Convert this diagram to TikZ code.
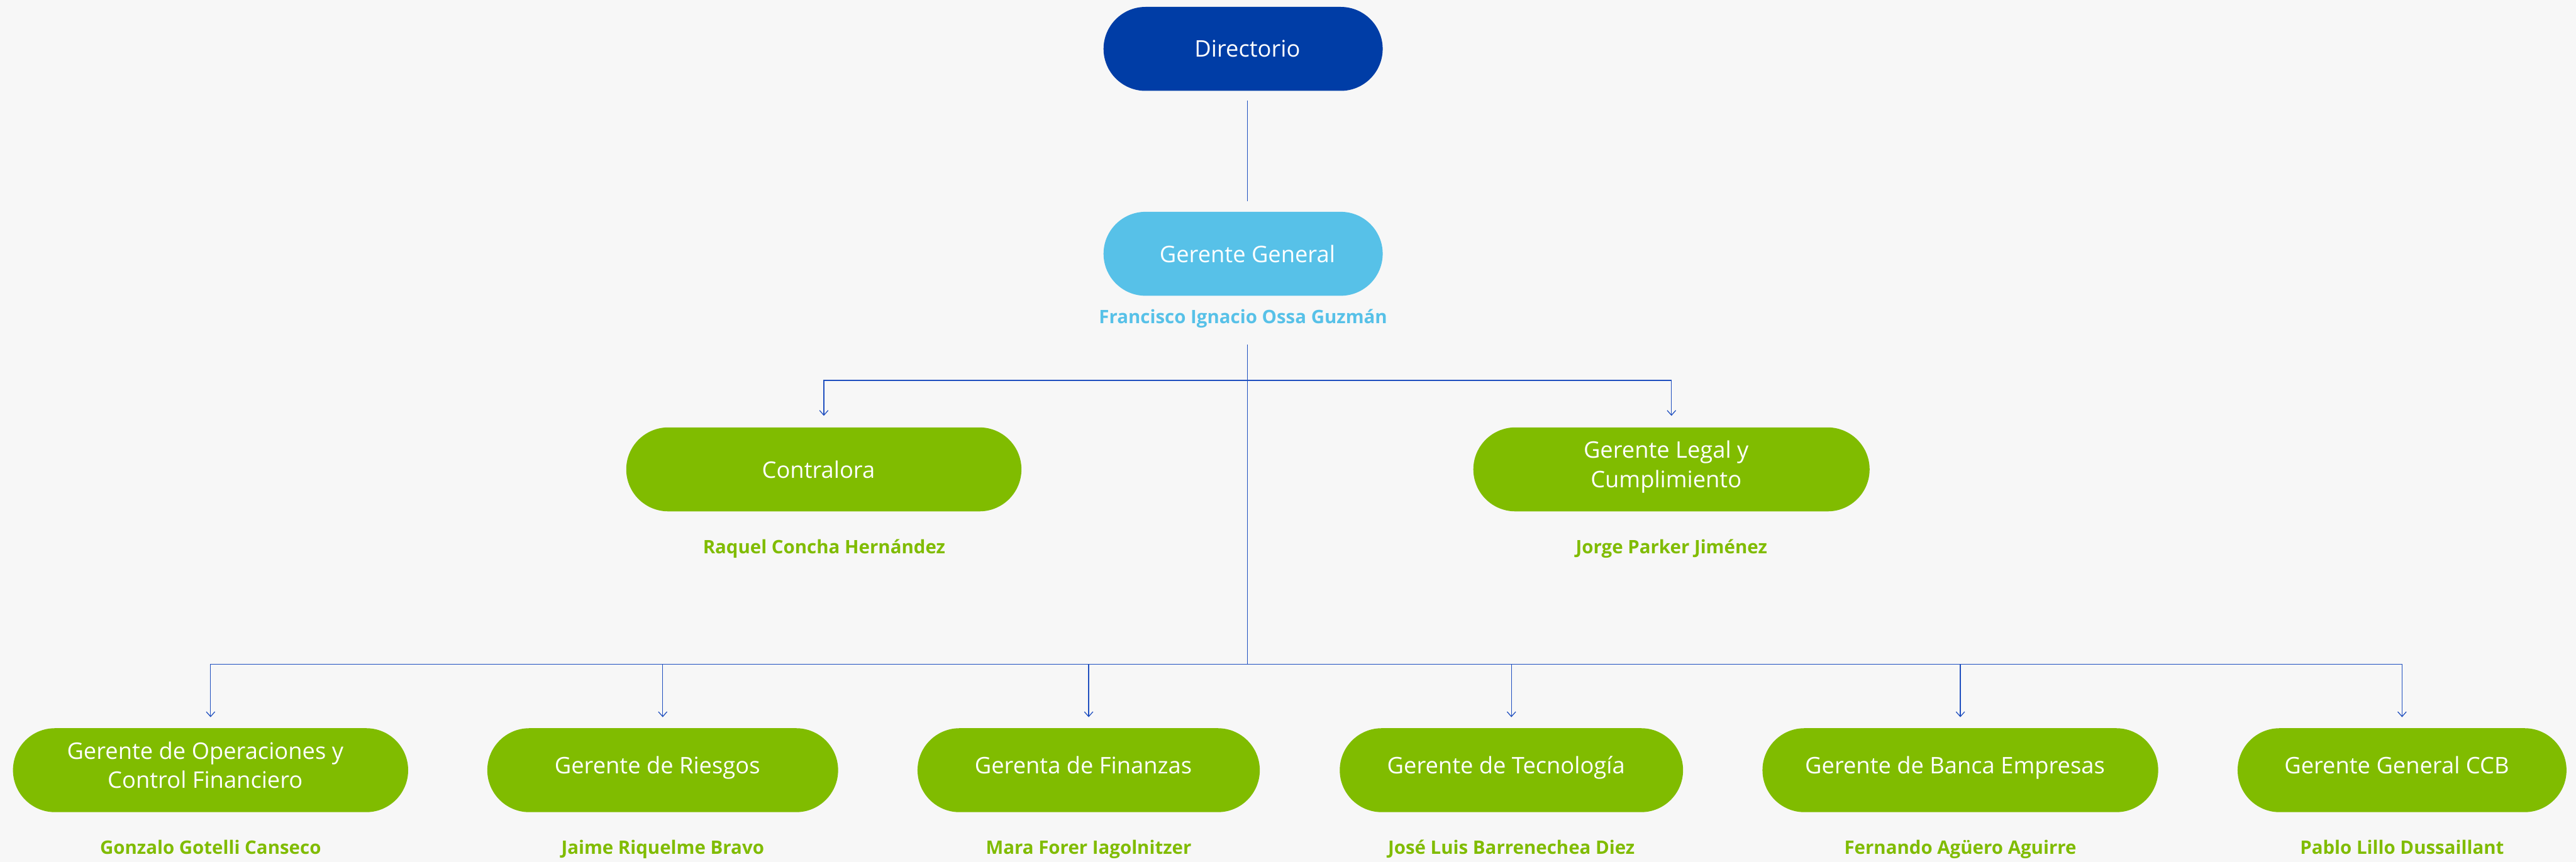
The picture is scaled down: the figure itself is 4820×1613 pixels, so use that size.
\documentclass[tikz,border=0pt]{standalone}
\usepackage{fontspec}
\setmainfont{Open Sans}
\usetikzlibrary{arrows.meta}
\definecolor{bgc}{HTML}{F7F7F7}
\definecolor{dblue}{HTML}{003DA6}
\definecolor{lblue}{HTML}{57C1E8}
\definecolor{kgreen}{HTML}{80BC00}
\definecolor{lineblue}{HTML}{1F4FBF}
\newcommand{\mystrut}{\rule[-0.45em]{0pt}{1.21em}}
\newcommand{\trsp}{\hspace*{0.2cm}}
\newcommand{\ldsp}{\hspace*{0.16cm}}
\begin{document}
\begin{tikzpicture}[x=0.01cm,y=-0.01cm,
  box/.style={rectangle, rounded corners=0.785cm, minimum height=1.57cm, inner sep=0pt,
    text=white, align=center, font=\fontsize{12.15pt}{15.6pt}\selectfont},
  person/.style={anchor=base, font=\fontsize{9.85pt}{11pt}\selectfont\bfseries},
  conn/.style={draw=lineblue, line width=0.42pt},
  arr/.style={conn, -{Straight Barb[length=0.09cm, width=0.16cm]}}]
\fill[bgc] (0,0) rectangle (4820,1613);
\useasboundingbox (0,0) rectangle (4820,1613);

% top
\node[box, fill=dblue, minimum width=5.22cm] (dir) at (2326,91.5) {\ldsp Directorio};
\node[box, fill=lblue, minimum width=5.22cm] (gg) at (2326,475) {\ldsp Gerente General};
\node[person, text=lblue] (ggn) at (2326,606) {Francisco Ignacio Ossa Guzmán};

% second level
\node[box, fill=kgreen, minimum width=7.39cm] (con) at (1541.5,878.5) {Contralora\trsp};
\node[person, text=kgreen] (conp) at (1542,1036) {Raquel Concha Hernández};
\node[box, fill=kgreen, minimum width=7.41cm] (leg) at (3127.5,878.5) {\mystrut Gerente Legal y\trsp\\Cumplimiento\trsp\mystrut};
\node[person, text=kgreen] (legp) at (3127.5,1036) {Jorge Parker Jiménez};

% third level
\node[box, fill=kgreen, minimum width=7.39cm] (b1) at (394,1441.5) {\mystrut Gerente de Operaciones y\trsp\\Control Financiero\trsp\mystrut};
\node[person, text=kgreen] (p1) at (394,1599) {Gonzalo Gotelli Canseco};
\node[box, fill=kgreen, minimum width=6.56cm] (b2) at (1240,1441.5) {\mystrut Gerente de Riesgos\trsp};
\node[person, text=kgreen] (p2) at (1240,1599) {Jaime Riquelme Bravo};
\node[box, fill=kgreen, minimum width=6.40cm] (b3) at (2037,1441.5) {\mystrut Gerenta de Finanzas\trsp};
\node[person, text=kgreen] (p3) at (2037,1599) {Mara Forer Iagolnitzer};
\node[box, fill=kgreen, minimum width=6.42cm] (b4) at (2828,1441.5) {\mystrut Gerente de Tecnología\trsp};
\node[person, text=kgreen] (p4) at (2828,1599) {José Luis Barrenechea Diez};
\node[box, fill=kgreen, minimum width=7.40cm] (b5) at (3668,1441.5) {\mystrut Gerente de Banca Empresas\trsp};
\node[person, text=kgreen] (p5) at (3668,1599) {Fernando Agüero Aguirre};
\node[box, fill=kgreen, minimum width=6.15cm] (b6) at (4494.5,1441.5) {\mystrut Gerente General CCB\trsp};
\node[person, text=kgreen] (p6) at (4494.5,1599) {Pablo Lillo Dussaillant};

% connectors
\coordinate (t0) at (2334.5,645);
\coordinate (j1) at (2334.5,712);
\coordinate (j2) at (2334.5,1243);
\draw[conn, shorten <=0.17cm, shorten >=0.19cm] ([xshift=0.085cm]dir.south) -- ([xshift=0.085cm]gg.north);
\draw[conn] (t0) -- (j2);
\draw[arr, shorten >=0.21cm] (j1) -| (con.north);
\draw[arr, shorten >=0.21cm] (j1) -| (leg.north);
\foreach \b in {b1,b2,b3,b4,b5,b6}
  \draw[arr, shorten >=0.2cm] (j2) -| (\b.north);
\end{tikzpicture}
\end{document}
